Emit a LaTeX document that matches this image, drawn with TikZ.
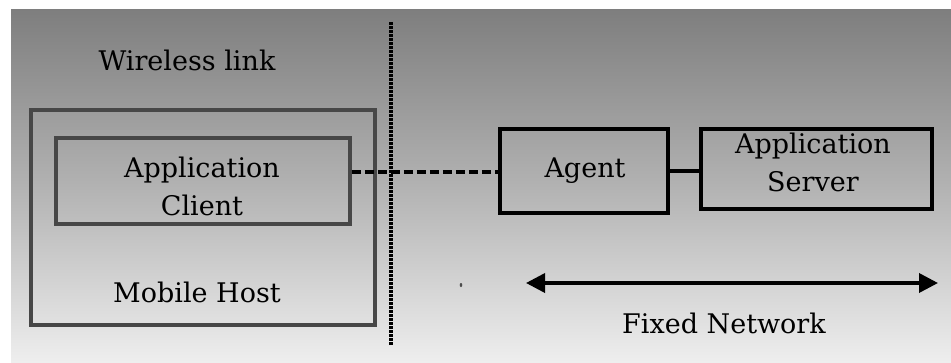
\documentclass[tikz,border=0pt]{standalone}
\usepackage{fontspec}
\setmainfont{DejaVu Serif}
\usetikzlibrary{arrows.meta}
\begin{document}
\begin{tikzpicture}[x=1pt,y=-1pt,
  lbl/.style={font=\fontsize{27}{38}\selectfont, text=black, align=center, inner sep=0pt},
  hostbox/.style={draw=black!72, line width=3.6pt, inner sep=0pt},
  netbox/.style={draw=black, line width=3.6pt, inner sep=0pt},
  wire/.style={black, line width=3.6pt, dash pattern=on 9pt off 4pt},
  border/.style={black, line width=3.2pt, dash pattern=on 2.6pt off 1.4pt}
]
\useasboundingbox (0,0) rectangle (951,362);
\fill[white] (0,0) rectangle (951,362);
\shade[top color={rgb,255:red,126;green,126;blue,126}, bottom color={rgb,255:red,238;green,238;blue,238}, middle color={rgb,255:red,178;green,178;blue,178}] (11,9) rectangle (951,362);

\node[hostbox, minimum width=344pt, minimum height=215pt] (mh) at (203,217.5) {};
\node[hostbox, minimum width=294pt, minimum height=86pt] (ac) at (203,181) {};
\node[lbl] (actext) at (202,186) {Application\\Client};
\node[lbl] (mhtext) at (197,292) {Mobile Host};
\node[lbl] (wl) at (187,60) {Wireless link};

\coordinate (dtop) at (391,22);
\coordinate (dbot) at (391,345);
\draw[border] (dtop) -- (dbot);

\node[netbox, minimum width=168pt, minimum height=84pt] (agent) at (584,171) {};
\node[lbl] (agenttext) at (585,171) {Agent};
\node[netbox, minimum width=231pt, minimum height=80pt] (server) at (816.5,169) {};
\node[lbl] (servertext) at (813,162.5) {Application\\Server};

\draw[wire] (ac.east |- 0,172) -- (agent.west |- 0,172);
\draw[black, line width=3.6pt] (agent.east |- 0,171) -- (server.west |- 0,171);

\coordinate (al) at (526,283);
\coordinate (ar) at (938,283);
\draw[black, line width=3.6pt, {Triangle[length=19pt,width=19pt]}-{Triangle[length=19pt,width=19pt]}] (al) -- (ar);
\node[lbl] (fn) at (724,323) {Fixed Network};

\fill[black!70] (461,285) ellipse (1.3pt and 2pt);
\end{tikzpicture}
\end{document}
